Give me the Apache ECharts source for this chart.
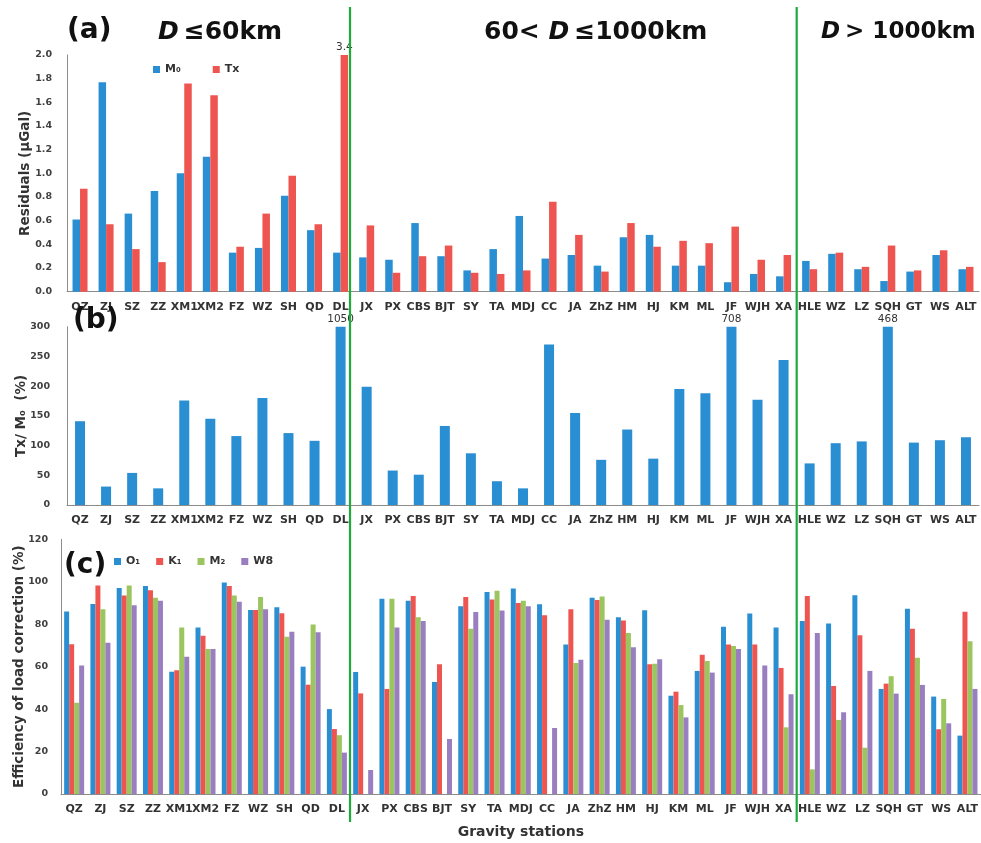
<!DOCTYPE html>
<html>
<head>
<meta charset="utf-8">
<script src="https://cdn.jsdelivr.net/npm/echarts@6/dist/echarts.min.js"></script>
<style>html,body{margin:0;padding:0;background:#fff}#c{width:981px;height:843px}</style>
</head>
<body>
<div id="c"></div>
<script>
// ---- data ----
const stations = ['QZ','ZJ','SZ','ZZ','XM1','XM2','FZ','WZ','SH','QD','DL','JX','PX','CBS','BJT','SY','TA','MDJ','CC','JA','ZhZ','HM','HJ','KM','ML','JF','WJH','XA','HLE','WZ','LZ','SQH','GT','WS','ALT'];
const residM0 = [0.61,1.77,0.66,0.85,1.00,1.14,0.33,0.37,0.81,0.52,0.33,0.29,0.27,0.58,0.30,0.18,0.36,0.64,0.28,0.31,0.22,0.46,0.48,0.22,0.22,0.08,0.15,0.13,0.26,0.32,0.19,0.09,0.17,0.31,0.19];
const residTx = [0.87,0.57,0.36,0.25,1.76,1.66,0.38,0.66,0.98,0.57,3.4,0.56,0.16,0.30,0.39,0.16,0.15,0.18,0.76,0.48,0.17,0.58,0.38,0.43,0.41,0.55,0.27,0.31,0.19,0.33,0.21,0.39,0.18,0.35,0.21];
const ratioTxM0 = [141,31,54,28,176,145,116,180,121,108,1050,199,58,51,133,87,40,28,270,155,76,127,78,195,188,708,177,244,70,104,107,468,105,109,114];
const effO1 = [86,89.5,97,98,57.6,78.4,99.6,86.7,88,60,40,57.5,92,91,52.8,88.4,95.2,96.8,89.4,70.4,92.5,83.3,86.6,46.3,58,78.8,85,78.5,81.5,80.3,93.6,49.5,87.3,45.9,27.5];
const effK1 = [70.5,98.2,93.5,96,58.3,74.6,98,86.7,85.2,51.5,30.6,47.4,49.5,93.3,61.1,92.8,91.6,90,84.2,87,91.4,81.7,61.1,48.2,65.6,70.4,70.4,59.4,93.3,50.9,74.8,52,77.8,30.5,85.9];
const effM2 = [43,87,98.2,92.5,78.5,68.3,93.5,92.8,74.1,79.8,27.7,null,92,83.3,null,77.9,95.8,91,null,61.7,93,75.9,61.4,41.9,62.7,69.7,null,31.4,11.6,34.9,21.8,55.5,64.2,44.8,72];
const effW8 = [60.6,71.3,88.9,91,64.7,68.3,90.6,87,76.5,76.2,19.5,11.3,78.4,81.5,25.9,85.8,86.4,88.4,31.1,63.3,82.1,69.1,63.5,36.1,57.2,68.3,60.5,47,75.9,38.5,58,47.3,51.4,33.3,49.5];
const residTicks = {min: 0, max: 2, interval: 0.2};
const ratioTicks = {min: 0, max: 300, interval: 50};
const effTicks = {min: 0, max: 120, interval: 20};
const ratioCap = 300;
const residCap = 2;

// ---- style ----
const FONT = 'DejaVu Sans';
const BLUE = '#2a8fd2', RED = '#ee5550', GREEN = '#9bc55e', PURPLE = '#9a7fc0';
const axisLineStyle = {lineStyle: {color: '#8c8c8c', width: 1}};

function catAxis(gridIndex, showName) {
  return {
    type: 'category', gridIndex, data: stations,
    axisLine: axisLineStyle, axisTick: {show: false},
    axisLabel: {interval: 0, color: '#333', fontFamily: FONT, fontWeight: 'bold', fontSize: 11, margin: 10},
    name: showName ? 'Gravity stations' : '', nameLocation: 'middle', nameGap: 31, nameMoveOverlap: false,
    nameTextStyle: {fontFamily: FONT, fontWeight: 'bold', fontSize: 14, color: '#333'}
  };
}
function valAxis(gridIndex, ticks, name, gap, fmt, margin) {
  return Object.assign({
    type: 'value', gridIndex,
    splitLine: {show: false}, axisLine: Object.assign({show: true}, axisLineStyle), axisTick: {show: false},
    axisLabel: {color: '#404040', fontFamily: FONT, fontWeight: 'bold', fontSize: 9.5, margin, formatter: fmt},
    name, nameLocation: 'middle', nameRotate: 90, nameGap: gap, nameMoveOverlap: false,
    nameTextStyle: {fontFamily: FONT, fontWeight: 'bold', fontSize: 13.5, color: '#333'}
  }, ticks);
}
function capped(arr, cap) {
  return arr.map(v => v > cap ? {value: v, label: {show: true, position: 'top', distance: 2, formatter: '{c}', color: '#333', fontFamily: FONT, fontSize: 10.5}} : v);
}

const chart = echarts.init(document.getElementById('c'), null, {renderer: 'canvas'});
const titleStyle = {fontFamily: FONT, fontWeight: 'bold', color: '#111'};
const option = {
  animation: false,
  backgroundColor: '#fff',
  title: [
    {text: '(a)', left: 62, top: 12, textStyle: Object.assign({fontSize: 28}, titleStyle)},
    {text: '(b)', left: 68, top: 302, textStyle: Object.assign({fontSize: 28}, titleStyle)},
    {text: '(c)', left: 59, top: 547, textStyle: Object.assign({fontSize: 28}, titleStyle)},
    {text: '{i|D} {n|≤60km}', left: 153, top: 15,
      textStyle: {rich: {i: Object.assign({fontSize: 25, fontStyle: 'italic'}, titleStyle), n: Object.assign({fontSize: 25}, titleStyle)}}},
    {text: '{n|60< }{i|D} {n|≤1000km}', left: 479, top: 15,
      textStyle: {rich: {i: Object.assign({fontSize: 25, fontStyle: 'italic'}, titleStyle), n: Object.assign({fontSize: 25}, titleStyle)}}},
    {text: '{i|D} {n|> 1000km}', left: 816, top: 16,
      textStyle: {rich: {i: Object.assign({fontSize: 23, fontStyle: 'italic'}, titleStyle), n: Object.assign({fontSize: 23}, titleStyle)}}}
  ],
  legend: [
    {data: ['M₀', 'Tx'], left: 148, top: 59, itemWidth: 7, itemHeight: 7, itemGap: 32, icon: 'rect',
      textStyle: {fontFamily: FONT, fontWeight: 'bold', fontSize: 11, color: '#333'}},
    {data: ['O₁', 'K₁', 'M₂', 'W8'], left: 109, top: 551, itemWidth: 7, itemHeight: 7, itemGap: 16, icon: 'rect',
      textStyle: {fontFamily: FONT, fontWeight: 'bold', fontSize: 11, color: '#333'}}
  ],
  grid: [
    {left: 67, top: 55, width: 912, height: 236.7},
    {left: 67, top: 326.7, width: 912, height: 178.3},
    {left: 61, top: 539.3, width: 925, height: 254.7}
  ],
  xAxis: [catAxis(0, false), catAxis(1, false), catAxis(2, true)],
  yAxis: [
    valAxis(0, residTicks, 'Residuals (μGal)', 35, v => v.toFixed(1), 15),
    valAxis(1, ratioTicks, 'Tx/ M₀  (%)', 39, null, 17),
    valAxis(2, effTicks, 'Efficiency of load correction (%)', 35, null, 13)
  ],
  series: [
    {name: 'M₀', type: 'bar', xAxisIndex: 0, yAxisIndex: 0, data: residM0, barWidth: 7.5, barGap: '0%', itemStyle: {color: BLUE}},
    {name: 'Tx', type: 'bar', xAxisIndex: 0, yAxisIndex: 0, data: capped(residTx, residCap), barWidth: 7.5, barGap: '0%', itemStyle: {color: RED}},
    {name: 'Tx/M0', type: 'bar', xAxisIndex: 1, yAxisIndex: 1, data: capped(ratioTxM0, ratioCap), barWidth: 10, itemStyle: {color: BLUE}},
    {name: 'O₁', type: 'bar', xAxisIndex: 2, yAxisIndex: 2, data: effO1, barWidth: 5, barGap: '0%', itemStyle: {color: BLUE}},
    {name: 'K₁', type: 'bar', xAxisIndex: 2, yAxisIndex: 2, data: effK1, barWidth: 5, barGap: '0%', itemStyle: {color: RED}},
    {name: 'M₂', type: 'bar', xAxisIndex: 2, yAxisIndex: 2, data: effM2, barWidth: 5, barGap: '0%', itemStyle: {color: GREEN}},
    {name: 'W8', type: 'bar', xAxisIndex: 2, yAxisIndex: 2, data: effW8, barWidth: 5, barGap: '0%', itemStyle: {color: PURPLE}}
  ]
};
chart.setOption(option);

// group separators (between DL|JX and XA|HLE), positioned from the category scale of panel (c)
function px(i) {
  const p = chart.convertToPixel({xAxisIndex: 2}, i);
  return Array.isArray(p) ? p[0] : p;
}
const sepAfter = ['DL', 'XA'].map(n => stations.indexOf(n));
const lines = sepAfter.map(i => {
  const x = (px(i) + px(i + 1)) / 2;
  return {type: 'line', z: 100, shape: {x1: x, y1: 7, x2: x, y2: 822}, style: {stroke: '#1faa3c', lineWidth: 2.2}};
});
chart.setOption({graphic: lines});
</script>
</body>
</html>
